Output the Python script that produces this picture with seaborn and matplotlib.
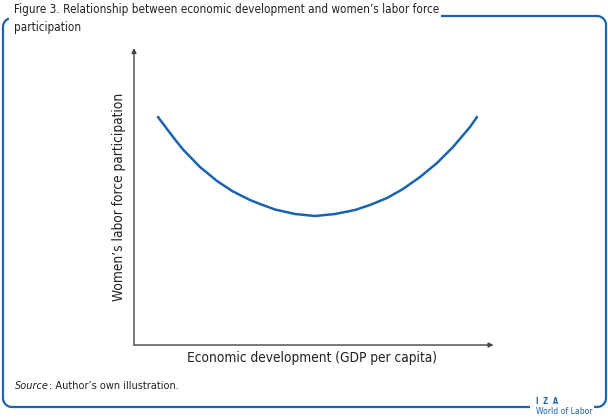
import numpy as np
import pandas as pd
import seaborn as sns
import matplotlib.pyplot as plt

# curve (arbitrary units, x: development, y: participation)
gdp = [24, 33, 41, 49, 66, 83, 99, 116, 126, 141, 161, 181, 201, 221, 236,
       253, 269, 286, 303, 319, 336, 343]
flfp = [228, 216, 205.5, 195.5, 178, 164, 153.5, 145, 141, 135.5, 131, 129,
        131, 135, 140, 147, 156, 168, 182, 198, 218, 228]

title = "Figure 3. Relationship between economic development and women\u2019s labor force\nparticipation"
xlabel = "Economic development (GDP per capita)"
ylabel = "Women\u2019s labor force participation"
source = ": Author\u2019s own illustration."

blue = "#1a63b0"
ink = "#222222"
W, H = 608, 418

sns.set_theme(style="white")
plt.rcParams['font.family'] = ['DejaVu Sans']
plt.rcParams['font.stretch'] = 'condensed'

fig = plt.figure(figsize=(W / 100, H / 100), dpi=100)

# decoration layer in pixel coordinates
deco = fig.add_axes([0, 0, 1, 1])
deco.set_xlim(0, W)
deco.set_ylim(H, 0)
deco.axis("off")


def arc(cx, cy, r, a0, a1):
    t = np.radians(np.linspace(a0, a1, 20))
    return cx + r * np.cos(t), cy - r * np.sin(t)


r = 9
xs, ys = [441, 606 - r], [16, 16]
ax_, ay_ = arc(606 - r, 16 + r, r, 90, 0)
xs += list(ax_); ys += list(ay_)
ax_, ay_ = arc(606 - r, 407 - r, r, 0, -90)
xs += list(ax_); ys += list(ay_)
xs += [594]; ys += [407]
deco.plot(xs, ys, color=blue, lw=1.6, solid_capstyle="butt")

xs, ys = [], []
ax_, ay_ = arc(3 + r, 18 + r, r, 110, 180)
xs += list(ax_); ys += list(ay_)
ax_, ay_ = arc(3 + r, 407 - r, r, 180, 270)
xs += list(ax_); ys += list(ay_)
xs += [530]; ys += [407]
deco.plot(xs, ys, color=blue, lw=1.6, solid_capstyle="butt")

fig.text(14 / W, 1 - 3 / H, title, ha="left", va="top", fontsize=8.4,
         color=ink, linespacing=1.45)
src = fig.text(15 / W, 1 - 386 / H, "Source", style="italic", ha="left",
               va="center", fontsize=7.8, color=ink)
fig.text(536 / W, 1 - 401 / H, "I  Z  A", ha="left", va="center", fontsize=5.5,
         fontweight="bold", color=blue)
fig.text(536 / W, 1 - 411 / H, "World of Labor", ha="left", va="center",
         fontsize=6.2, color=blue)

# main plot, 1 unit = 1 pixel
left, right, bottom, top = 134, 490, 345, 48
ax = fig.add_axes([left / W, 1 - bottom / H, (right - left) / W, (bottom - top) / H])
df = pd.DataFrame({"gdp": gdp, "flfp": flfp})
sns.lineplot(data=df, x="gdp", y="flfp", ax=ax, color=blue, lw=1.8)
ax.lines[0].set_solid_joinstyle("round")
ax.set_xlim(0, right - left)
ax.set_ylim(0, bottom - top)
for s in ax.spines.values():
    s.set_visible(False)
ax.set_xticks([])
ax.set_yticks([])
ax.set_xlabel(xlabel, fontsize=9.8, color=ink, labelpad=4)
ax.set_ylabel(ylabel, fontsize=9.8, color=ink, labelpad=6)
ax.patch.set_alpha(0)

arrow = dict(arrowstyle="-|>", color="#444444", lw=1.0, mutation_scale=7,
             shrinkA=0, shrinkB=0)
ax.annotate("", xy=(1.01, 0), xytext=(0, 0), xycoords="axes fraction",
            textcoords="axes fraction", arrowprops=arrow)
ax.annotate("", xy=(0, 1.0), xytext=(0, 0), xycoords="axes fraction",
            textcoords="axes fraction", arrowprops=arrow)

# place the rest of the source line right after the italic word
fig.canvas.draw()
bb = src.get_window_extent()
fig.text(bb.x1 / W, 1 - 386 / H, source, ha="left", va="center",
         fontsize=7.8, color=ink)

fig.savefig("out.png", dpi=100)
